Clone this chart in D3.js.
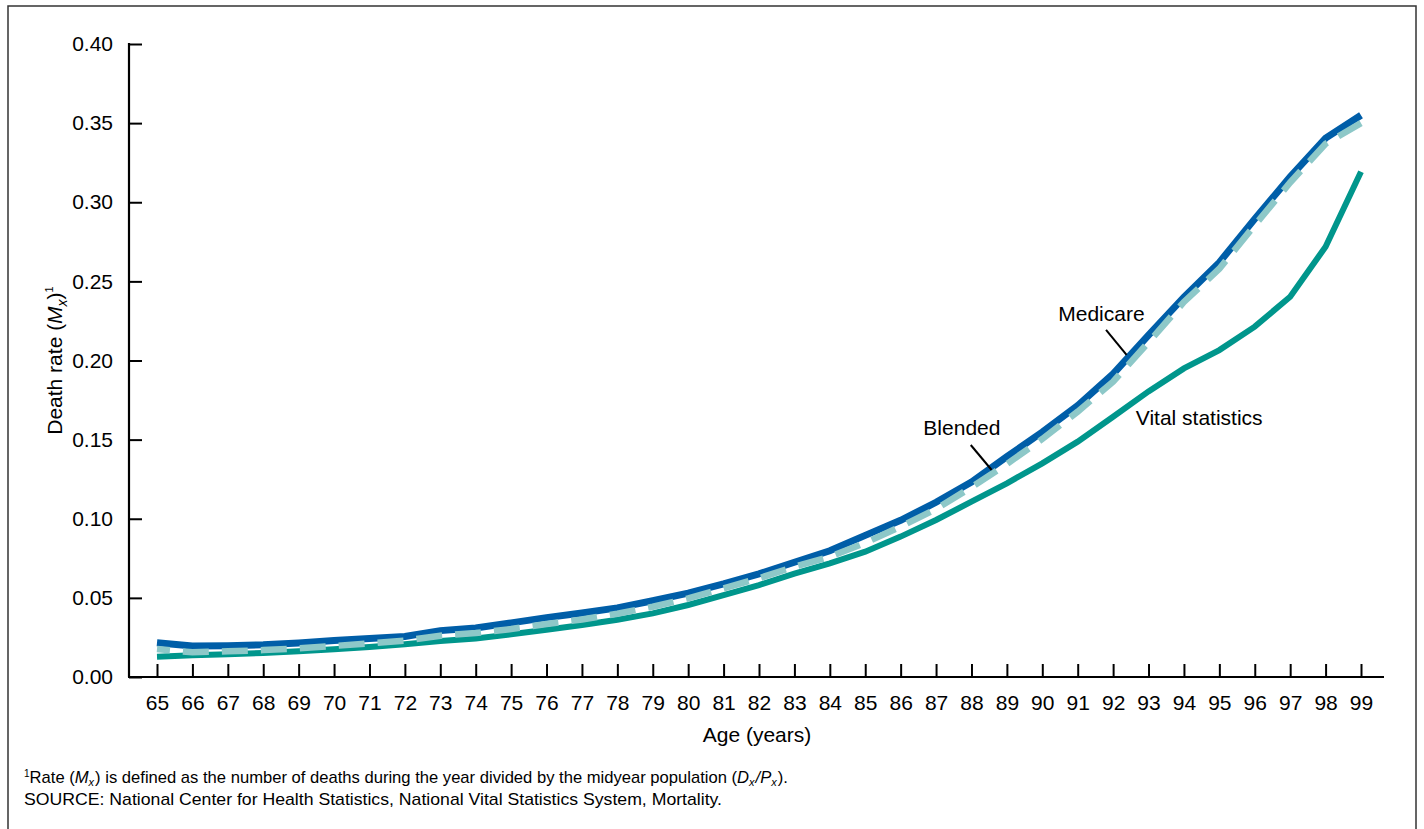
<!DOCTYPE html>
<html>
<head>
<meta charset="utf-8">
<script src="https://cdn.jsdelivr.net/npm/d3@7"></script>
<style>
  html, body { margin: 0; padding: 0; background: #fff; }
  svg { display: block; font-family: "Liberation Sans", Arial, sans-serif; }
</style>
</head>
<body>
<svg id="chart" width="1424" height="829"></svg>
<script>
// Ages 65-99
const ages = d3.range(65, 100);

// Death rates (Mx) by single year of age
const medicare = [0.0217, 0.0196, 0.0198, 0.0204, 0.0215, 0.0230, 0.0243, 0.0256, 0.0293, 0.0310,
  0.0342, 0.0375, 0.0405, 0.0437, 0.0482, 0.0530, 0.0588, 0.0652, 0.0725, 0.0798,
  0.0895, 0.0990, 0.1104, 0.1232, 0.1392, 0.1548, 0.1715, 0.1915, 0.2160, 0.2400,
  0.2620, 0.2895, 0.3160, 0.3405, 0.3550];

const blended = [0.0177, 0.0156, 0.0162, 0.0170, 0.0181, 0.0196, 0.0213, 0.0230, 0.0261, 0.0278,
  0.0303, 0.0335, 0.0363, 0.0400, 0.0444, 0.0497, 0.0560, 0.0624, 0.0697, 0.0760,
  0.0848, 0.0950, 0.1062, 0.1199, 0.1346, 0.1504, 0.1677, 0.1866, 0.2115, 0.2370,
  0.2580, 0.2855, 0.3125, 0.3370, 0.3500];

const vital = [0.0128, 0.0137, 0.0143, 0.0152, 0.0162, 0.0175, 0.0190, 0.0207, 0.0227, 0.0243,
  0.0270, 0.0298, 0.0329, 0.0362, 0.0402, 0.0455, 0.0518, 0.0581, 0.0653, 0.0718,
  0.0792, 0.0887, 0.0992, 0.1108, 0.1224, 0.1350, 0.1487, 0.1645, 0.1805, 0.1950,
  0.2066, 0.2214, 0.2403, 0.2719, 0.3193];

const yTicks = [0, 0.05, 0.10, 0.15, 0.20, 0.25, 0.30, 0.35, 0.40];

const svg = d3.select("#chart");
const font = 21;

// outer frame
svg.append("rect")
  .attr("x", 8).attr("y", 6).attr("width", 1408).attr("height", 840)
  .attr("fill", "none").attr("stroke", "#333").attr("stroke-width", 1.5);

const x = d3.scaleLinear().domain([65, 99]).range([157, 1361]);
const y = d3.scaleLinear().domain([0, 0.4]).range([677, 44]);

// y axis: ticks point into the plot
const yAxis = svg.append("g")
  .attr("transform", `translate(${129},0)`)
  .call(d3.axisLeft(y).tickValues(yTicks).tickFormat(d3.format(".2f"))
    .tickSizeInner(-13).tickSizeOuter(0).tickPadding(16));
yAxis.select(".domain").remove();
yAxis.append("line").attr("x1", 0).attr("x2", 0).attr("y1", y(0.4) - 1).attr("y2", y(0))
  .attr("stroke", "#000").attr("stroke-width", 2.2);
yAxis.selectAll(".tick line").attr("stroke", "#000").attr("stroke-width", 2);
yAxis.selectAll(".tick text").attr("font-size", font).attr("fill", "#000")
  .attr("font-family", "Liberation Sans, Arial, sans-serif");

// x axis
const xAxis = svg.append("g")
  .attr("transform", `translate(0,${y(0)})`)
  .call(d3.axisBottom(x).tickValues(ages).tickFormat(d3.format("d"))
    .tickSizeInner(-13).tickSizeOuter(0).tickPadding(18));
xAxis.select(".domain").remove();
xAxis.append("line").attr("x1", 128).attr("x2", 1384).attr("y1", 0).attr("y2", 0)
  .attr("stroke", "#000").attr("stroke-width", 2.2);
xAxis.selectAll(".tick line").attr("stroke", "#000").attr("stroke-width", 2);
xAxis.selectAll(".tick text").attr("font-size", font).attr("fill", "#000")
  .attr("font-family", "Liberation Sans, Arial, sans-serif");

// axis titles
svg.append("text")
  .attr("x", 757).attr("y", 742).attr("text-anchor", "middle")
  .attr("font-size", font).attr("fill", "#000")
  .text("Age (years)");

const yTitle = svg.append("text")
  .attr("transform", `translate(62,${(y(0) + y(0.4)) / 2}) rotate(-90)`)
  .attr("text-anchor", "middle")
  .attr("font-size", font).attr("fill", "#000");
yTitle.append("tspan").text("Death rate (");
yTitle.append("tspan").attr("font-style", "italic").text("M");
yTitle.append("tspan").attr("font-style", "italic").attr("font-size", 14).attr("dy", 5).text("x");
yTitle.append("tspan").attr("dy", -5).text(")");
yTitle.append("tspan").attr("font-size", 11).attr("dy", -9).text("1");

// series lines
const line = vals => d3.line().x((d, i) => x(ages[i])).y(d => y(d))(vals);

svg.append("path").attr("d", line(vital))
  .attr("fill", "none").attr("stroke", "#00968c").attr("stroke-width", 6);
svg.append("path").attr("d", line(medicare))
  .attr("fill", "none").attr("stroke", "#005ea8").attr("stroke-width", 7);
svg.append("path").attr("d", line(blended))
  .attr("fill", "none").attr("stroke", "#8dc8c8").attr("stroke-width", 6.5)
  .attr("stroke-dasharray", "26,13").attr("stroke-dashoffset", 13);

// series labels with leader lines
function label(txt, ax, av, anchor) {
  svg.append("text").attr("x", x(ax)).attr("y", y(av))
    .attr("text-anchor", anchor).attr("font-size", font).attr("fill", "#000").text(txt);
}
function leader(a1, v1, a2, v2) {
  svg.append("line").attr("x1", x(a1)).attr("y1", y(v1)).attr("x2", x(a2)).attr("y2", y(v2))
    .attr("stroke", "#000").attr("stroke-width", 2);
}
label("Medicare", 91.67, 0.225, "middle");
leader(91.8, 0.2193, 92.38, 0.2035);
label("Blended", 87.73, 0.153, "middle");
leader(87.98, 0.1466, 88.57, 0.1308);
label("Vital statistics", 92.64, 0.159, "start");

// footnotes
const fn = svg.append("text").attr("x", 24).attr("y", 783)
  .attr("font-size", 16.6).attr("fill", "#000");
fn.append("tspan").attr("font-size", 10).attr("dy", -6).text("1");
fn.append("tspan").attr("dy", 6).text("Rate (");
fn.append("tspan").attr("font-style", "italic").text("M");
fn.append("tspan").attr("font-style", "italic").attr("font-size", 11).attr("dy", 3).text("x");
fn.append("tspan").attr("dy", -3).attr("dx", 1).text(") is defined as the number of deaths during the year divided by the midyear population (");
fn.append("tspan").attr("font-style", "italic").text("D");
fn.append("tspan").attr("font-style", "italic").attr("font-size", 11).attr("dy", 3).text("x");
fn.append("tspan").attr("dy", -3).attr("dx", 1).attr("font-style", "italic").text("/P");
fn.append("tspan").attr("font-style", "italic").attr("font-size", 11).attr("dy", 3).text("x");
fn.append("tspan").attr("dy", -3).attr("dx", 1).text(").");

svg.append("text").attr("x", 24).attr("y", 805)
  .attr("font-size", 17).attr("fill", "#000")
  .attr("textLength", 698).attr("lengthAdjust", "spacingAndGlyphs")
  .text("SOURCE: National Center for Health Statistics, National Vital Statistics System, Mortality.");
</script>
</body>
</html>
